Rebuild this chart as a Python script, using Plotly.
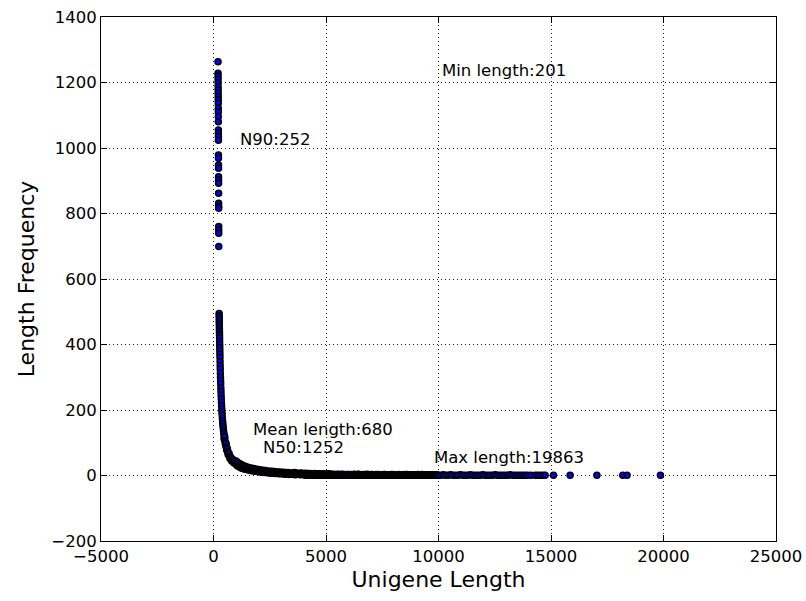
import plotly.graph_objects as go

# Upper cluster of short unigene lengths (length, frequency)
top_len = [201, 202, 203, 204, 205, 206, 207, 208, 209, 210, 211, 212, 213, 214, 215, 216, 217,
           218, 219, 220, 221, 222, 223, 224, 225, 226, 227, 228, 229, 230, 231, 232, 233, 234]
top_freq = [1263, 1228, 1220, 1210, 1199, 1187, 1177, 1167, 1157, 1147, 1137, 1121, 1111, 1096,
            1080, 1055, 1045, 1035, 1024, 979, 969, 948, 938, 912, 902, 892, 862, 831, 821, 816,
            760, 750, 740, 699]

# Main decaying curve
curve_len = [250, 252, 254, 256, 258, 260, 262, 264, 266, 268, 270, 273, 276, 279, 282, 285, 288,
             292, 296, 300, 305, 310, 315, 320, 326, 332, 338, 345, 352, 360, 368, 376, 385, 395,
             405, 415, 426, 438, 450, 463, 477, 492, 508, 525, 543, 562, 582, 604, 627, 652, 680,
             710, 742, 776, 812, 850, 890, 935, 985, 1040, 1100, 1165, 1235, 1310, 1390, 1480,
             1580, 1690, 1810, 1940, 2080, 2230, 2390, 2560, 2740, 2940, 3150, 3380, 3630, 3900,
             4200, 4520, 4860, 5220, 5600, 6000, 6420, 6860, 7320, 7800, 8300, 8820, 9360, 9920]
curve_freq = [495, 488, 480, 472, 465, 458, 450, 442, 435, 428, 420, 410, 400, 390, 380, 370, 360,
              348, 336, 325, 312, 300, 290, 280, 268, 257, 246, 235, 224, 213, 203, 194, 185, 175,
              166, 158, 150, 142, 134, 127, 120, 113, 106, 100, 94, 88, 83, 78, 73, 68, 63,
              59, 55, 51, 48, 45, 42, 39, 36, 33, 31, 29, 27, 25, 23, 21,
              19, 18, 16, 15, 14, 13, 12, 11, 10, 9, 8, 7, 7, 6,
              5, 5, 4, 4, 3, 3, 3, 2, 2, 2, 2, 1, 1, 1]

# Spread around the bend of the curve
bend_len = [470, 500, 530, 560, 590, 620, 650, 690, 730, 770, 810, 860, 910, 960]
bend_freq = [112, 118, 95, 98, 78, 82, 64, 68, 52, 56, 44, 49, 38, 42]

# Dense band 1000-3000
bandA_len = [1000, 1050, 1100, 1150, 1200, 1250, 1300, 1350, 1400, 1450, 1500, 1550, 1600, 1650,
             1700, 1750, 1800, 1850, 1900, 1950, 2000, 2050, 2100, 2150, 2200, 2250, 2300, 2350,
             2400, 2450, 2500, 2550, 2600, 2650, 2700, 2750, 2800, 2850, 2900, 2950, 3000]
bandA_freq = [44, 30, 38, 26, 35, 22, 31, 20, 28, 18, 26, 17, 24, 15,
              22, 14, 21, 13, 19, 12, 18, 11, 17, 10, 16, 9, 15, 9,
              14, 8, 13, 7, 13, 7, 12, 6, 11, 6, 11, 5, 10]

# Extra spread in the band 1000-4000
bandM_len = [1025, 1075, 1125, 1175, 1225, 1275, 1325, 1375, 1425, 1475, 1525, 1575, 1625, 1675,
             1725, 1775, 1825, 1875, 1925, 1975, 2025, 2075, 2125, 2175, 2225, 2275, 2325, 2375,
             2425, 2475, 2525, 2575, 2625, 2675, 2725, 2775, 2825, 2875, 2925, 2975, 3025, 3125,
             3225, 3325, 3425, 3525, 3625, 3725, 3825, 3925]
bandM_freq = [34, 40, 28, 33, 27, 30, 23, 27, 21, 24, 19, 22, 18, 21,
              16, 19, 15, 17, 14, 16, 13, 15, 12, 14, 12, 13, 11, 12,
              10, 11, 9, 11, 8, 10, 8, 9, 7, 9, 6, 8, 7, 6,
              7, 5, 6, 5, 6, 4, 5, 4]

# Dense band 3000-6000
bandB_len = [3050, 3100, 3150, 3200, 3250, 3300, 3350, 3400, 3450, 3500, 3550, 3600, 3650, 3700,
             3750, 3800, 3850, 3900, 3950, 4000, 4050, 4100, 4150, 4200, 4250, 4300, 4350, 4400,
             4450, 4500, 4550, 4600, 4650, 4700, 4750, 4800, 4850, 4900, 4950, 5000, 5050, 5100,
             5150, 5200, 5250, 5300, 5350, 5400, 5450, 5500, 5550, 5600, 5650, 5700, 5750, 5800,
             5850, 5900, 5950, 6000]
bandB_freq = [5, 10, 4, 9, 5, 9, 3, 8, 4, 8, 3, 9, 2, 7,
              4, 7, 2, 8, 3, 6, 2, 7, 3, 6, 1, 6, 2, 5,
              1, 6, 2, 5, 1, 5, 3, 4, 1, 5, 2, 4, 1, 5,
              2, 4, 1, 4, 2, 3, 1, 4, 2, 3, 1, 4, 1, 3,
              2, 3, 1, 3]

# Extra spread in the band 4000-6000
bandN1_len = [4025, 4075, 4125, 4175, 4225, 4275, 4325, 4375, 4425, 4475, 4525, 4575, 4625, 4675,
              4725, 4775, 4825, 4875, 4925, 4975, 5025, 5075, 5125, 5175, 5225, 5275, 5325, 5375,
              5425, 5475, 5525, 5575, 5625, 5675, 5725, 5775, 5825, 5875, 5925, 5975]
bandN1_freq = [4, 1, 5, 2, 3, 1, 4, 2, 3, 1, 4, 2, 3, 1,
               2, 4, 1, 3, 2, 1, 3, 2, 1, 3, 1, 2, 3, 1,
               2, 1, 3, 1, 2, 1, 3, 1, 2, 1, 2, 1]

# Dense band 6000-10000
bandC_len = [6070, 6140, 6210, 6280, 6350, 6420, 6490, 6560, 6630, 6700, 6770, 6840, 6910, 6980,
             7050, 7120, 7190, 7260, 7330, 7400, 7470, 7540, 7610, 7680, 7750, 7820, 7890, 7960,
             8030, 8100, 8170, 8240, 8310, 8380, 8450, 8520, 8590, 8660, 8730, 8800, 8870, 8940,
             9010, 9080, 9150, 9220, 9290, 9360, 9430, 9500, 9570, 9640, 9710, 9780, 9850, 9920,
             9990]
bandC_freq = [1, 3, 2, 4, 1, 3, 1, 2, 3, 1, 2, 4, 1, 2,
              3, 1, 2, 1, 3, 2, 1, 2, 3, 1, 2, 1, 3, 1,
              2, 1, 2, 3, 1, 1, 2, 1, 3, 1, 2, 1, 1, 2,
              1, 3, 1, 1, 2, 1, 1, 2, 1, 1, 2, 1, 1, 2,
              1]

# Extra spread in the band 6000-10000
bandN2_len = [6105, 6175, 6245, 6315, 6385, 6455, 6525, 6595, 6665, 6735, 6805, 6875, 6945, 7015,
              7085, 7155, 7225, 7295, 7365, 7435, 7505, 7575, 7645, 7715, 7785, 7855, 7925, 7995,
              8065, 8135, 8205, 8275, 8345, 8415, 8485, 8555, 8625, 8695, 8765, 8835, 8905, 8975,
              9045, 9115, 9185, 9255, 9325, 9395, 9465, 9535, 9605, 9675, 9745, 9815, 9885, 9955]
bandN2_freq = [2, 1, 3, 1, 2, 4, 1, 2, 1, 3, 1, 2, 1, 3,
               1, 2, 3, 1, 2, 1, 1, 3, 1, 2, 1, 2, 1, 3,
               1, 2, 1, 1, 2, 1, 3, 1, 1, 2, 1, 1, 2, 1,
               1, 2, 1, 3, 1, 1, 2, 1, 1, 1, 2, 1, 1, 1]

# Sparser band 10000-14000
bandD_len = [10100, 10210, 10320, 10430, 10540, 10650, 10760, 10870, 10980, 11090, 11200, 11310,
             11420, 11530, 11640, 11750, 11860, 11970, 12080, 12190, 12300, 12410, 12520, 12630,
             12740, 12850, 12960, 13070, 13180, 13290, 13400, 13510, 13620, 13730, 13840, 13950]
bandD_freq = [1, 2, 1, 1, 2, 1, 1, 1, 2, 1, 1, 1,
              2, 1, 1, 1, 1, 2, 1, 1, 1, 1, 2, 1,
              1, 1, 1, 1, 2, 1, 1, 1, 1, 1, 1, 1]

# Long tail
tail_len = [14100, 14290, 14400, 14520, 14650, 14740, 15110, 15850, 17040, 18190, 18380, 19863]
tail_freq = [1, 1, 1, 1, 1, 1, 1, 1, 1, 1, 1, 1]

all_len = (top_len + curve_len + bend_len + bandA_len + bandM_len + bandB_len + bandN1_len
           + bandC_len + bandN2_len + bandD_len + tail_len)
all_freq = (top_freq + curve_freq + bend_freq + bandA_freq + bandM_freq + bandB_freq
            + bandN1_freq + bandC_freq + bandN2_freq + bandD_freq + tail_freq)
pairs = sorted(zip(all_len, all_freq))
lengths = [p[0] for p in pairs]
freqs = [p[1] for p in pairs]

x_ticks = [-5000, 0, 5000, 10000, 15000, 20000, 25000]
y_ticks = [-200, 0, 200, 400, 600, 800, 1000, 1200, 1400]

FONT = "DejaVu Sans"

fig = go.Figure()
fig.add_trace(go.Scatter(
    x=lengths, y=freqs, mode="markers",
    marker=dict(color="#0000ff", size=6, line=dict(color="black", width=1.5)),
    showlegend=False, hoverinfo="skip"))

notes = [
    ("Min length:201", 10170, 1220),
    ("N90:252", 1175, 1008),
    ("Mean length:680", 1735, 125),
    ("N50:1252", 2220, 70),
    ("Max length:19863", 9790, 37),
]
for txt, nx, ny in notes:
    fig.add_annotation(x=nx, y=ny, xref="x", yref="y", text=txt, showarrow=False,
                       xanchor="left", yanchor="bottom", yshift=-6, xshift=-2,
                       font=dict(family=FONT, size=16.5, color="black"))

axis_common = dict(
    showline=True, linecolor="black", linewidth=1, mirror="ticks",
    ticks="inside", ticklen=6, tickcolor="black", tickwidth=1,
    showgrid=True, gridcolor="#222222", griddash="1px,3px", gridwidth=1,
    zeroline=False, automargin=False,
    tickfont=dict(family=FONT, size=16.5, color="black"),
)

fig.update_xaxes(range=[-5000, 25000], tickvals=x_ticks,
                 ticktext=[f"{v}".replace("-", "\u2212") for v in x_ticks],
                 title=dict(text="Unigene Length", font=dict(family=FONT, size=22, color="black"),
                            standoff=6),
                 **axis_common)
fig.update_yaxes(range=[-200, 1400], tickvals=y_ticks,
                 ticktext=[f"{v}".replace("-", "\u2212") for v in y_ticks],
                 title=dict(text="Length Frequency", font=dict(family=FONT, size=22, color="black"),
                            standoff=10),
                 **axis_common)

fig.update_layout(
    width=806, height=601,
    margin=dict(l=101, r=30, t=17, b=60),
    paper_bgcolor="white", plot_bgcolor="white",
    font=dict(family=FONT, color="black"),
)

fig.write_html("out.html")
